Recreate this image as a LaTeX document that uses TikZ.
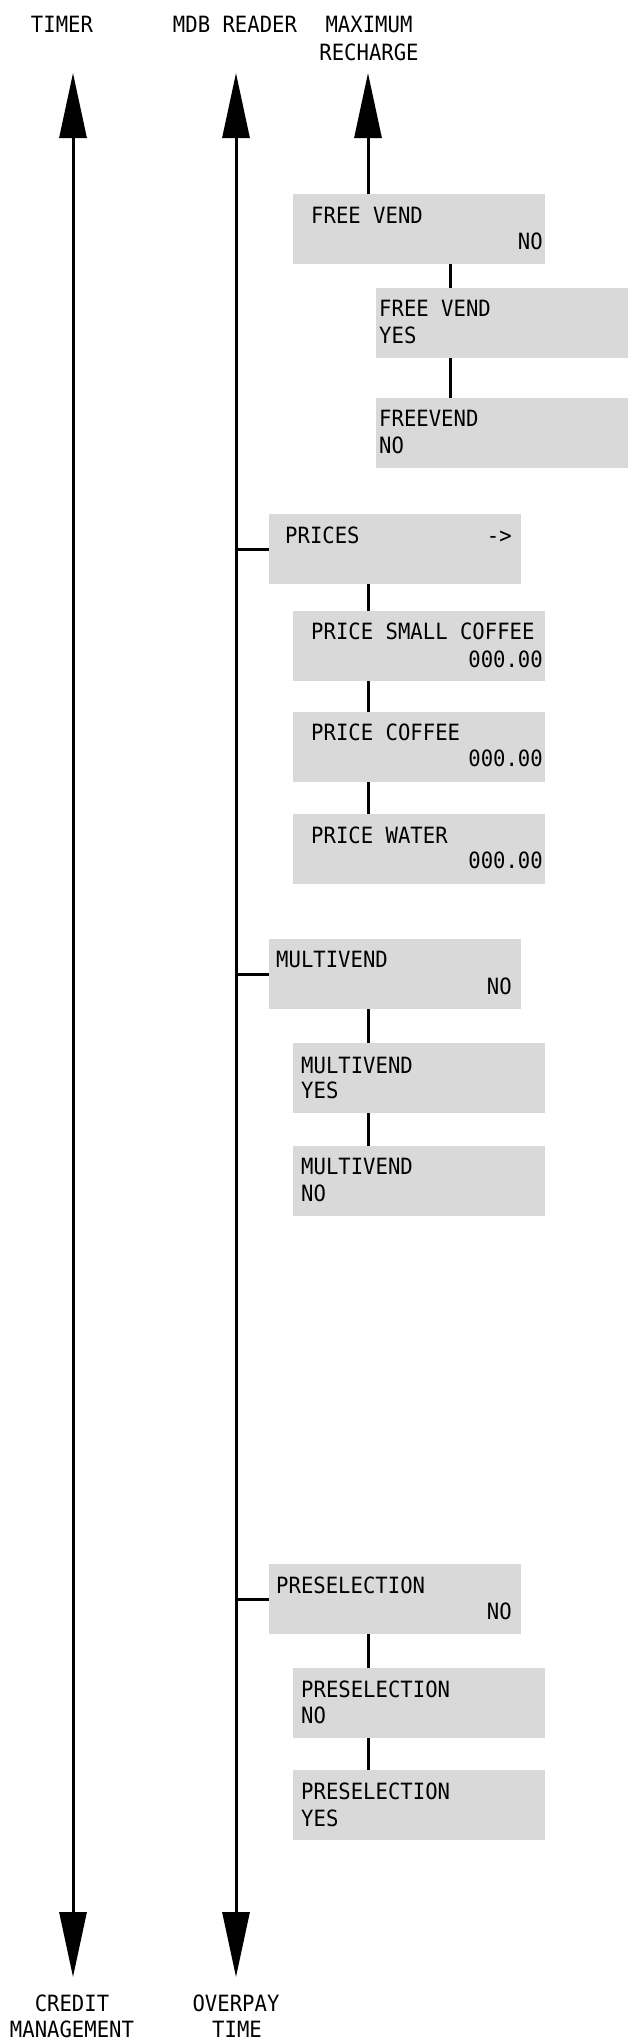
\documentclass[tikz,border=0pt]{standalone}
\usepackage{fontspec}
\newfontfamily\monofont[FakeStretch=0.92]{DejaVu Sans Mono}
\usetikzlibrary{arrows.meta}
\definecolor{boxgray}{RGB}{217,217,217}
\begin{document}
\begin{tikzpicture}[x=1pt,y=-1pt,
  box/.style={fill=boxgray, draw=none, minimum width=252pt, minimum height=70pt, inner sep=0pt, anchor=north west},
  txt/.style={inner sep=0pt, font=\monofont\fontsize{22.4}{27}\selectfont},
  lw/.style={line width=3pt},
  bigtip/.style={-{Triangle[length=65pt,width=27pt]}},
  bothtips/.style={{Triangle[length=65pt,width=27pt]}-{Triangle[length=65pt,width=27pt]}}]
\useasboundingbox (0,0) rectangle (631,2042);
% headers
\node[txt, anchor=base] (hTimer) at (62,33) {TIMER};
\node[txt, anchor=base] (hMdb) at (235,33) {MDB READER};
\node[txt, anchor=base] (hMax1) at (369,33) {MAXIMUM};
\node[txt, anchor=base] (hMax2) at (369,60) {RECHARGE};
\node[txt, anchor=base] (fCred1) at (72,2011) {CREDIT};
\node[txt, anchor=base] (fCred2) at (72,2037) {MANAGEMENT};
\node[txt, anchor=base] (fOver1) at (236,2011) {OVERPAY};
\node[txt, anchor=base] (fOver2) at (237,2037) {TIME};
% axis coordinates
\coordinate (timTop) at (73,73);
\coordinate (timBot) at (73,1977);
\coordinate (mdbTop) at (236,73);
\coordinate (mdbBot) at (236,1977);
\coordinate (maxTop) at (368,73);
\coordinate (cA) at (450,0);
\coordinate (cB) at (368,0);
% boxes
\node[box] (b1) at (293,194) {};
\node[box] (b2) at (376,288) {};
\node[box] (b3) at (376,398) {};
\node[box] (b4) at (269,514) {};
\node[box] (b5) at (293,611) {};
\node[box] (b6) at (293,712) {};
\node[box] (b7) at (293,814) {};
\node[box] (b8) at (269,939) {};
\node[box] (b9) at (293,1043) {};
\node[box] (b10) at (293,1146) {};
\node[box] (b11) at (269,1564) {};
\node[box] (b12) at (293,1668) {};
\node[box] (b13) at (293,1770) {};
% box texts
\node[txt, anchor=base west] (t1a) at (311,223) {FREE VEND};
\node[txt, anchor=base east] (t1b) at (543,249) {NO};
\node[txt, anchor=base west] (t2a) at (379,316) {FREE VEND};
\node[txt, anchor=base west] (t2b) at (379,343) {YES};
\node[txt, anchor=base west] (t3a) at (379,426) {FREEVEND};
\node[txt, anchor=base west] (t3b) at (379,453) {NO};
\node[txt, anchor=base west] (t4a) at (285,543) {PRICES};
\node[txt, anchor=base east] (t4b) at (512,543) {->};
\node[txt, anchor=base west] (t5a) at (311,639) {PRICE SMALL COFFEE};
\node[txt, anchor=base east] (t5b) at (543,667) {000.00};
\node[txt, anchor=base west] (t6a) at (311,740) {PRICE COFFEE};
\node[txt, anchor=base east] (t6b) at (543,766) {000.00};
\node[txt, anchor=base west] (t7a) at (311,843) {PRICE WATER};
\node[txt, anchor=base east] (t7b) at (543,868) {000.00};
\node[txt, anchor=base west] (t8a) at (276,967) {MULTIVEND};
\node[txt, anchor=base east] (t8b) at (512,994) {NO};
\node[txt, anchor=base west] (t9a) at (301,1073) {MULTIVEND};
\node[txt, anchor=base west] (t9b) at (301,1098) {YES};
\node[txt, anchor=base west] (t10a) at (301,1174) {MULTIVEND};
\node[txt, anchor=base west] (t10b) at (301,1201) {NO};
\node[txt, anchor=base west] (t11a) at (276,1593) {PRESELECTION};
\node[txt, anchor=base east] (t11b) at (512,1619) {NO};
\node[txt, anchor=base west] (t12a) at (301,1697) {PRESELECTION};
\node[txt, anchor=base west] (t12b) at (301,1723) {NO};
\node[txt, anchor=base west] (t13a) at (301,1799) {PRESELECTION};
\node[txt, anchor=base west] (t13b) at (301,1826) {YES};
% axes
\draw[lw, bothtips] (timBot) -- (timTop);
\draw[lw, bothtips] (mdbBot) -- (mdbTop);
\draw[lw, bigtip] (b1.north -| maxTop) -- (maxTop);
% branches from MDB line
\draw[lw] (b4.west -| mdbTop) -- (b4.west);
\draw[lw] (b8.west -| mdbTop) -- (b8.west);
\draw[lw] (b11.west -| mdbTop) -- (b11.west);
% vertical connectors
\draw[lw] (b1.south -| cA) -- (b2.north -| cA);
\draw[lw] (b2.south -| cA) -- (b3.north -| cA);
\draw[lw] (b4.south -| cB) -- (b5.north -| cB);
\draw[lw] (b5.south -| cB) -- (b6.north -| cB);
\draw[lw] (b6.south -| cB) -- (b7.north -| cB);
\draw[lw] (b8.south -| cB) -- (b9.north -| cB);
\draw[lw] (b9.south -| cB) -- (b10.north -| cB);
\draw[lw] (b11.south -| cB) -- (b12.north -| cB);
\draw[lw] (b12.south -| cB) -- (b13.north -| cB);
\end{tikzpicture}
\end{document}
